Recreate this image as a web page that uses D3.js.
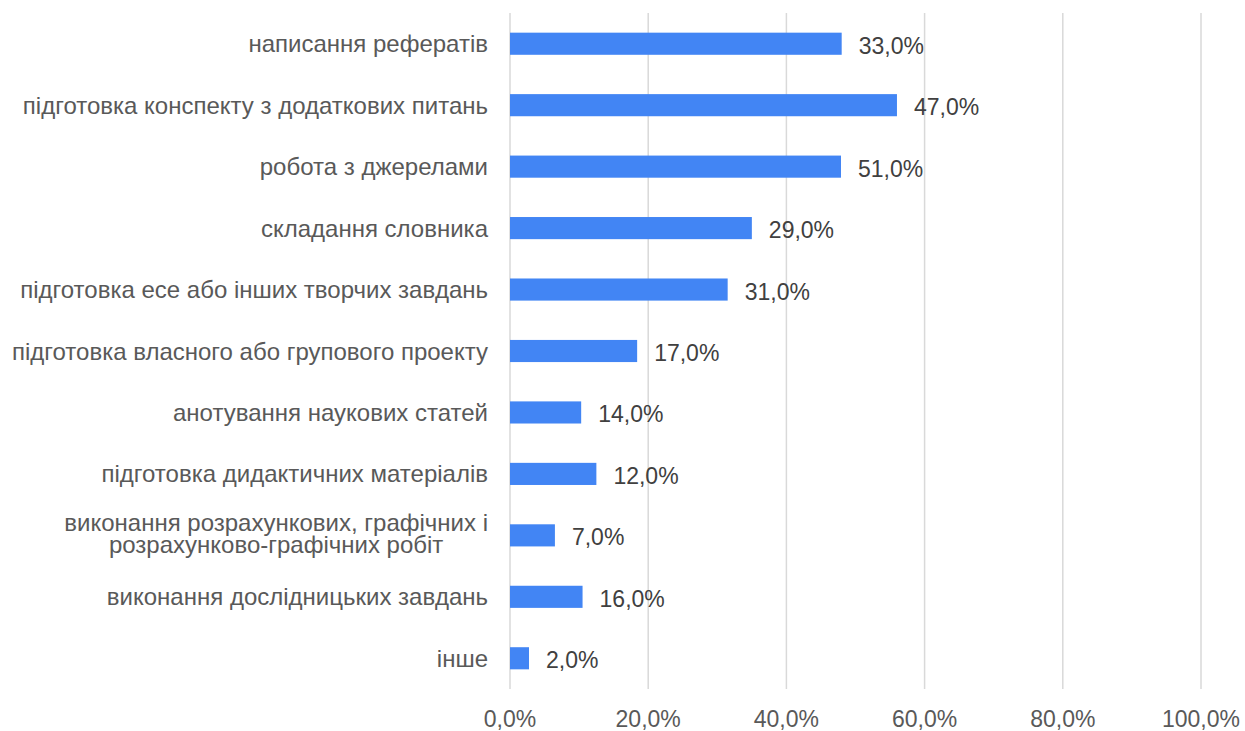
<!DOCTYPE html>
<html><head><meta charset="utf-8">
<script src="https://cdn.jsdelivr.net/npm/d3@7"></script>
<style>body{margin:0;background:#fff}svg{display:block}text{font-family:"Liberation Sans",Arial,sans-serif}</style>
</head><body>
<script>
const categories = [
  ["написання рефератів"],
  ["підготовка конспекту з додаткових питань"],
  ["робота з джерелами"],
  ["складання словника"],
  ["підготовка есе або інших творчих завдань"],
  ["підготовка власного або групового проекту"],
  ["анотування наукових статей"],
  ["підготовка дидактичних матеріалів"],
  ["виконання розрахункових, графічних і", "розрахунково-графічних робіт"],
  ["виконання дослідницьких завдань"],
  ["інше"]
];
const barValues = [48, 56, 47.9, 35, 31.5, 18.4, 10.3, 12.5, 6.5, 10.5, 2.75];
const dataLabels = ["33,0%","47,0%","51,0%","29,0%","31,0%","17,0%","14,0%","12,0%","7,0%","16,0%","2,0%"];
const tickValues = [0, 20, 40, 60, 80, 100];
const tickLabels = ["0,0%","20,0%","40,0%","60,0%","80,0%","100,0%"];

(function () {
const W = 1245, H = 731;
const mL = 510, mR = 1201, mT = 13, mB = 689;
const svg = d3.select("body").append("svg").attr("width", W).attr("height", H);

const x = d3.scaleLinear().domain([0, 100]).range([mL, mR]);
const y = d3.scaleBand().domain(d3.range(categories.length)).range([mT, mB]).paddingInner(0.64).paddingOuter(0.32);

// gridlines
svg.append("g").selectAll("line").data(tickValues).join("line")
  .attr("x1", d => x(d)).attr("x2", d => x(d))
  .attr("y1", mT).attr("y2", mB)
  .attr("stroke", "#d9d9d9").attr("stroke-width", 1.5);

// tick labels
svg.append("g").selectAll("text").data(tickValues).join("text")
  .attr("x", d => x(d)).attr("y", 727)
  .attr("text-anchor", "middle")
  .attr("font-size", 23).attr("fill", "#595959")
  .text((d, i) => tickLabels[i]);

// bars
svg.append("g").selectAll("rect").data(barValues).join("rect")
  .attr("x", x(0)).attr("y", (d, i) => y(i))
  .attr("width", d => x(d) - x(0)).attr("height", y.bandwidth())
  .attr("fill", "#4285f4");

// data labels
svg.append("g").selectAll("text").data(barValues).join("text")
  .attr("x", d => x(d) + 17)
  .attr("y", (d, i) => y(i) + y.bandwidth() / 2 + 10)
  .attr("font-size", 23).attr("fill", "#404040")
  .text((d, i) => dataLabels[i]);

// category labels
const cg = svg.append("g");
const fs = 24;
categories.forEach((lines, i) => {
  const cy = y(i) + y.bandwidth() / 2;
  if (lines.length === 1) {
    cg.append("text").attr("x", 488).attr("y", cy + 8.5)
      .attr("text-anchor", "end").attr("font-size", fs).attr("fill", "#595959")
      .text(lines[0]);
  } else {
    const lh = 22;
    const t1 = cg.append("text").attr("x", 488).attr("y", cy + 6.5 - lh / 2)
      .attr("text-anchor", "end").attr("font-size", fs).attr("fill", "#595959")
      .text(lines[0]);
    const w1 = t1.node().getComputedTextLength();
    cg.append("text").attr("x", 488 - w1 / 2).attr("y", cy + 6.5 + lh / 2)
      .attr("text-anchor", "middle").attr("font-size", fs).attr("fill", "#595959")
      .text(lines[1]);
  }
});
})();
</script>
</body></html>
